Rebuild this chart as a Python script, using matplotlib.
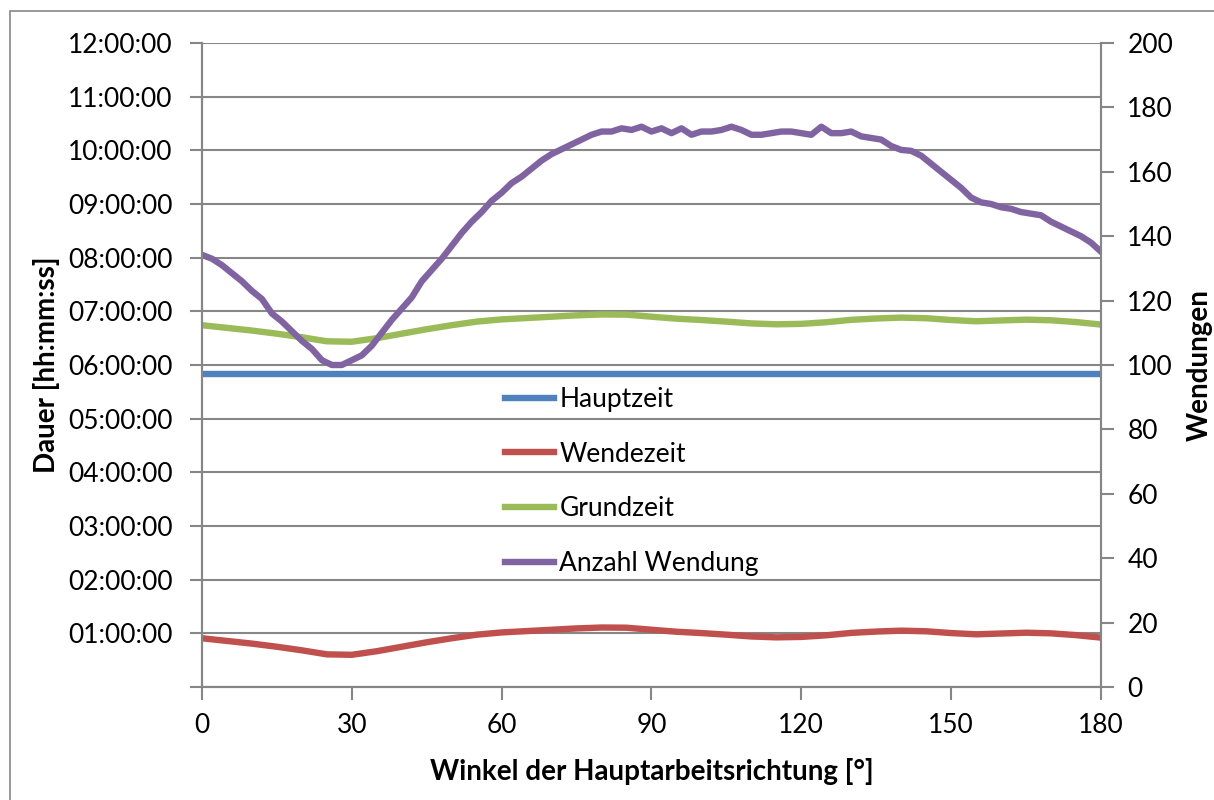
import numpy as np
import matplotlib
matplotlib.use("Agg")
import matplotlib.pyplot as plt
from matplotlib.ticker import FuncFormatter, MultipleLocator
from matplotlib.patches import Rectangle

plt.rcParams['font.family'] = ['Lato', 'DejaVu Sans']

# Winkel in Grad, Zeiten in Minuten
winkel = [0, 5, 10, 15, 20, 25, 30, 35, 40, 45, 50, 55, 60, 65, 70, 75, 80, 85, 90,
          95, 100, 105, 110, 115, 120, 125, 130, 135, 140, 145, 150, 155, 160, 165,
          170, 175, 180]
wendezeit = [54.5, 51.5, 48.5, 45, 41, 36.5, 36, 40, 45, 50, 54.5, 58.5, 61, 62.5, 64,
             65.5, 66.5, 66.3, 64, 61.8, 60.3, 58.5, 56.5, 55.5, 56, 57.8, 60.5, 62, 63,
             62.3, 60.3, 58.9, 59.8, 60.7, 60, 58, 55.2]
grundzeit = [404.5, 401.5, 398.5, 395, 391, 386.5, 386, 390, 395, 400, 404.5, 408.5,
             411, 412.5, 414, 415.5, 416.5, 416.3, 414, 411.8, 410.3, 408.5, 406.5,
             405.5, 406, 407.8, 410.5, 412, 413, 412.3, 410.3, 408.9, 409.8, 410.7,
             410, 408, 405.2]
haupt_winkel = [0, 180]
hauptzeit = [350, 350]

wend_winkel = list(range(0, 181, 2))
wendungen = [134.2, 133, 131, 128.5, 126, 123, 120.5, 116, 113.5, 110.5, 107.5, 105,
             101.5, 100, 100, 101.5, 103, 106, 110, 114, 117.5, 121, 126, 129.5, 133,
             137, 141, 144.5, 147.5, 151, 153.5, 156.5, 158.5, 161, 163.5, 165.5, 167,
             168.5, 170, 171.5, 172.5, 172.5, 173.5, 173, 174, 172.5, 173.5, 172, 173.5,
             171.5, 172.5, 172.5, 173, 174, 173, 171.5, 171.5, 172, 172.5, 172.5, 172,
             171.5, 174, 172, 172, 172.5, 171, 170.5, 170, 168, 166.8, 166.5, 165,
             162.5, 160, 157.5, 155, 152, 150.5, 150, 149, 148.5, 147.5, 147, 146.5,
             144.5, 143, 141.5, 140, 138, 135.2]

grau = '#868686'
fig = plt.figure(figsize=(12.14, 8), dpi=100)
fig.patches.append(Rectangle((10 / 1214, -0.05), 1.2, 1.05 - 11 / 800,
                             transform=fig.transFigure, fill=False,
                             edgecolor=grau, linewidth=1.2))
ax = fig.add_axes([0.1664, 0.14125, 0.7405, 0.805])
ax2 = ax.twinx()

lw = 4.6
l1, = ax.plot(haupt_winkel, hauptzeit, color='#4F81BD', lw=lw, label='Hauptzeit')
l2, = ax.plot(winkel, wendezeit, color='#C0504D', lw=lw, label='Wendezeit')
l3, = ax.plot(winkel, grundzeit, color='#9BBB59', lw=lw, label='Grundzeit')
l4, = ax2.plot(wend_winkel, wendungen, color='#8064A2', lw=lw, label='Anzahl Wendung')

ax.set_xlim(0, 180)
ax.set_ylim(0, 720)
ax2.set_ylim(0, 200)
ax.xaxis.set_major_locator(MultipleLocator(30))
ax.yaxis.set_major_locator(MultipleLocator(60))
ax2.yaxis.set_major_locator(MultipleLocator(20))
ax.yaxis.set_major_formatter(FuncFormatter(
    lambda v, p: '' if v == 0 else '%02d:%02d:00' % (int(v // 60), int(v % 60))))

ax.grid(axis='y', color=grau, lw=1.5)
ax.set_axisbelow(True)
for a in (ax, ax2):
    for s in a.spines.values():
        s.set_color(grau)
        s.set_linewidth(1.5)
    a.spines['top'].set_visible(False)
    a.tick_params(direction='out', length=9, width=1.5, color=grau,
                  labelsize=19, pad=6)
ax.tick_params(axis='y', pad=12)
ax2.tick_params(axis='y', pad=10)
ax.tick_params(axis='x', pad=10)

ax.set_xlabel('Winkel der Hauptarbeitsrichtung [°]', fontsize=20, fontweight='bold',
              labelpad=14)
ax.set_ylabel('Dauer [hh:mm:ss]', fontsize=20, fontweight='bold', labelpad=6)
ax2.set_ylabel('Wendungen', fontsize=20, fontweight='bold', labelpad=10)

ax2.legend(handles=[l1, l2, l3, l4], loc='upper left', bbox_to_anchor=(0.311, 0.503),
           frameon=False, fontsize=19, handlelength=1.85, handletextpad=0.2,
           labelspacing=1.13)

plt.savefig('out.png', dpi=100)
